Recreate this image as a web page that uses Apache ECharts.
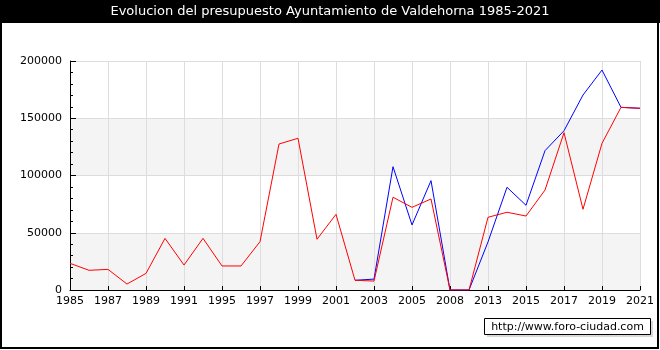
<!DOCTYPE html>
<html><head><meta charset="utf-8">
<script src="https://cdn.jsdelivr.net/npm/echarts@6/dist/echarts.min.js"></script>
<style>html,body{margin:0;padding:0;background:#fff}#c{width:660px;height:350px}</style>
</head><body><div id="c"></div>
<script>
const categories = ['1985','1986','1987','1988','1989','1990','1991','1993','1995','1996','1997','1998','1999','2000','2001','2002','2003','2004','2005','2007','2008','2011','2013','2014','2015','2016','2017','2018','2019','2020','2021'];
const redValues = [23300,17200,18000,5200,14500,45100,21800,45100,21000,21000,42200,127500,132500,44300,66100,8500,7800,81000,72200,79500,0,0,63500,67900,64600,87300,137400,70500,128100,159500,158700];
const blueValues = [null,null,null,null,null,null,null,null,null,null,null,null,null,null,null,8500,9500,107700,56800,95500,0,0,42000,89700,74000,121700,139100,170300,192100,159500,158700];
const yTicks = [0,50000,100000,150000,200000];
const titleText = 'Evolucion del presupuesto Ayuntamiento de Valdehorna 1985-2021';
const sourceText = 'http://www.foro-ciudad.com';

const chart = echarts.init(document.getElementById('c'), null, {renderer:'canvas'});
const font = 'DejaVu Sans';
chart.setOption({
  animation:false,
  backgroundColor:'#fff',
  grid:{left:70,right:20,top:61,bottom:60},
  xAxis:{
    type:'category', data:categories, boundaryGap:false,
    axisLine:{lineStyle:{color:'#000',width:1}},
    axisTick:{inside:true,length:4,interval:1,lineStyle:{color:'#000'}},
    axisLabel:{interval:1,color:'#000',fontFamily:font,fontSize:11,margin:6},
    splitLine:{show:true,interval:1,lineStyle:{color:'#dddddd',width:1}}
  },
  yAxis:{
    type:'value', min:yTicks[0], max:yTicks[yTicks.length-1], interval:50000,
    axisLine:{show:true,lineStyle:{color:'#000',width:1}},
    axisTick:{show:true,inside:true,length:6,lineStyle:{color:'#000'}},
    minorTick:{show:true,splitNumber:5,length:3,lineStyle:{color:'#000',width:1}},
    axisLabel:{color:'#000',fontFamily:font,fontSize:11,margin:8,formatter:function(v){return String(v);}},
    splitLine:{show:true,lineStyle:{color:'#dddddd',width:1}},
    splitArea:{show:true,areaStyle:{color:['#f4f4f4','#ffffff']}}
  },
  series:[
    {type:'line',data:blueValues,symbol:'none',connectNulls:false,lineStyle:{color:'#0000ff',width:1},z:2},
    {type:'line',data:redValues,symbol:'none',lineStyle:{color:'#ff0000',width:1},z:3}
  ],
  graphic:[
    {type:'rect',left:0,top:0,shape:{width:660,height:23},style:{fill:'#000'},z:10},
    {type:'text',x:330,y:12,style:{text:titleText,fill:'#fff',font:'13px '+font,textAlign:'center',textVerticalAlign:'middle'},z:11},
    {type:'rect',shape:{x:1,y:1,width:657,height:347},style:{fill:'none',stroke:'#000',lineWidth:2},z:12},
    {type:'rect',shape:{x:487,y:321,width:166,height:16},style:{fill:'#d8d8d8'},z:10},
    {type:'rect',shape:{x:484.5,y:318.5,width:166,height:16},style:{fill:'#fff',stroke:'#000',lineWidth:1},z:11},
    {type:'text',x:567.5,y:327,style:{text:sourceText,fill:'#000',font:'11px '+font,textAlign:'center',textVerticalAlign:'middle'},z:12}
  ]
});
</script></body></html>
